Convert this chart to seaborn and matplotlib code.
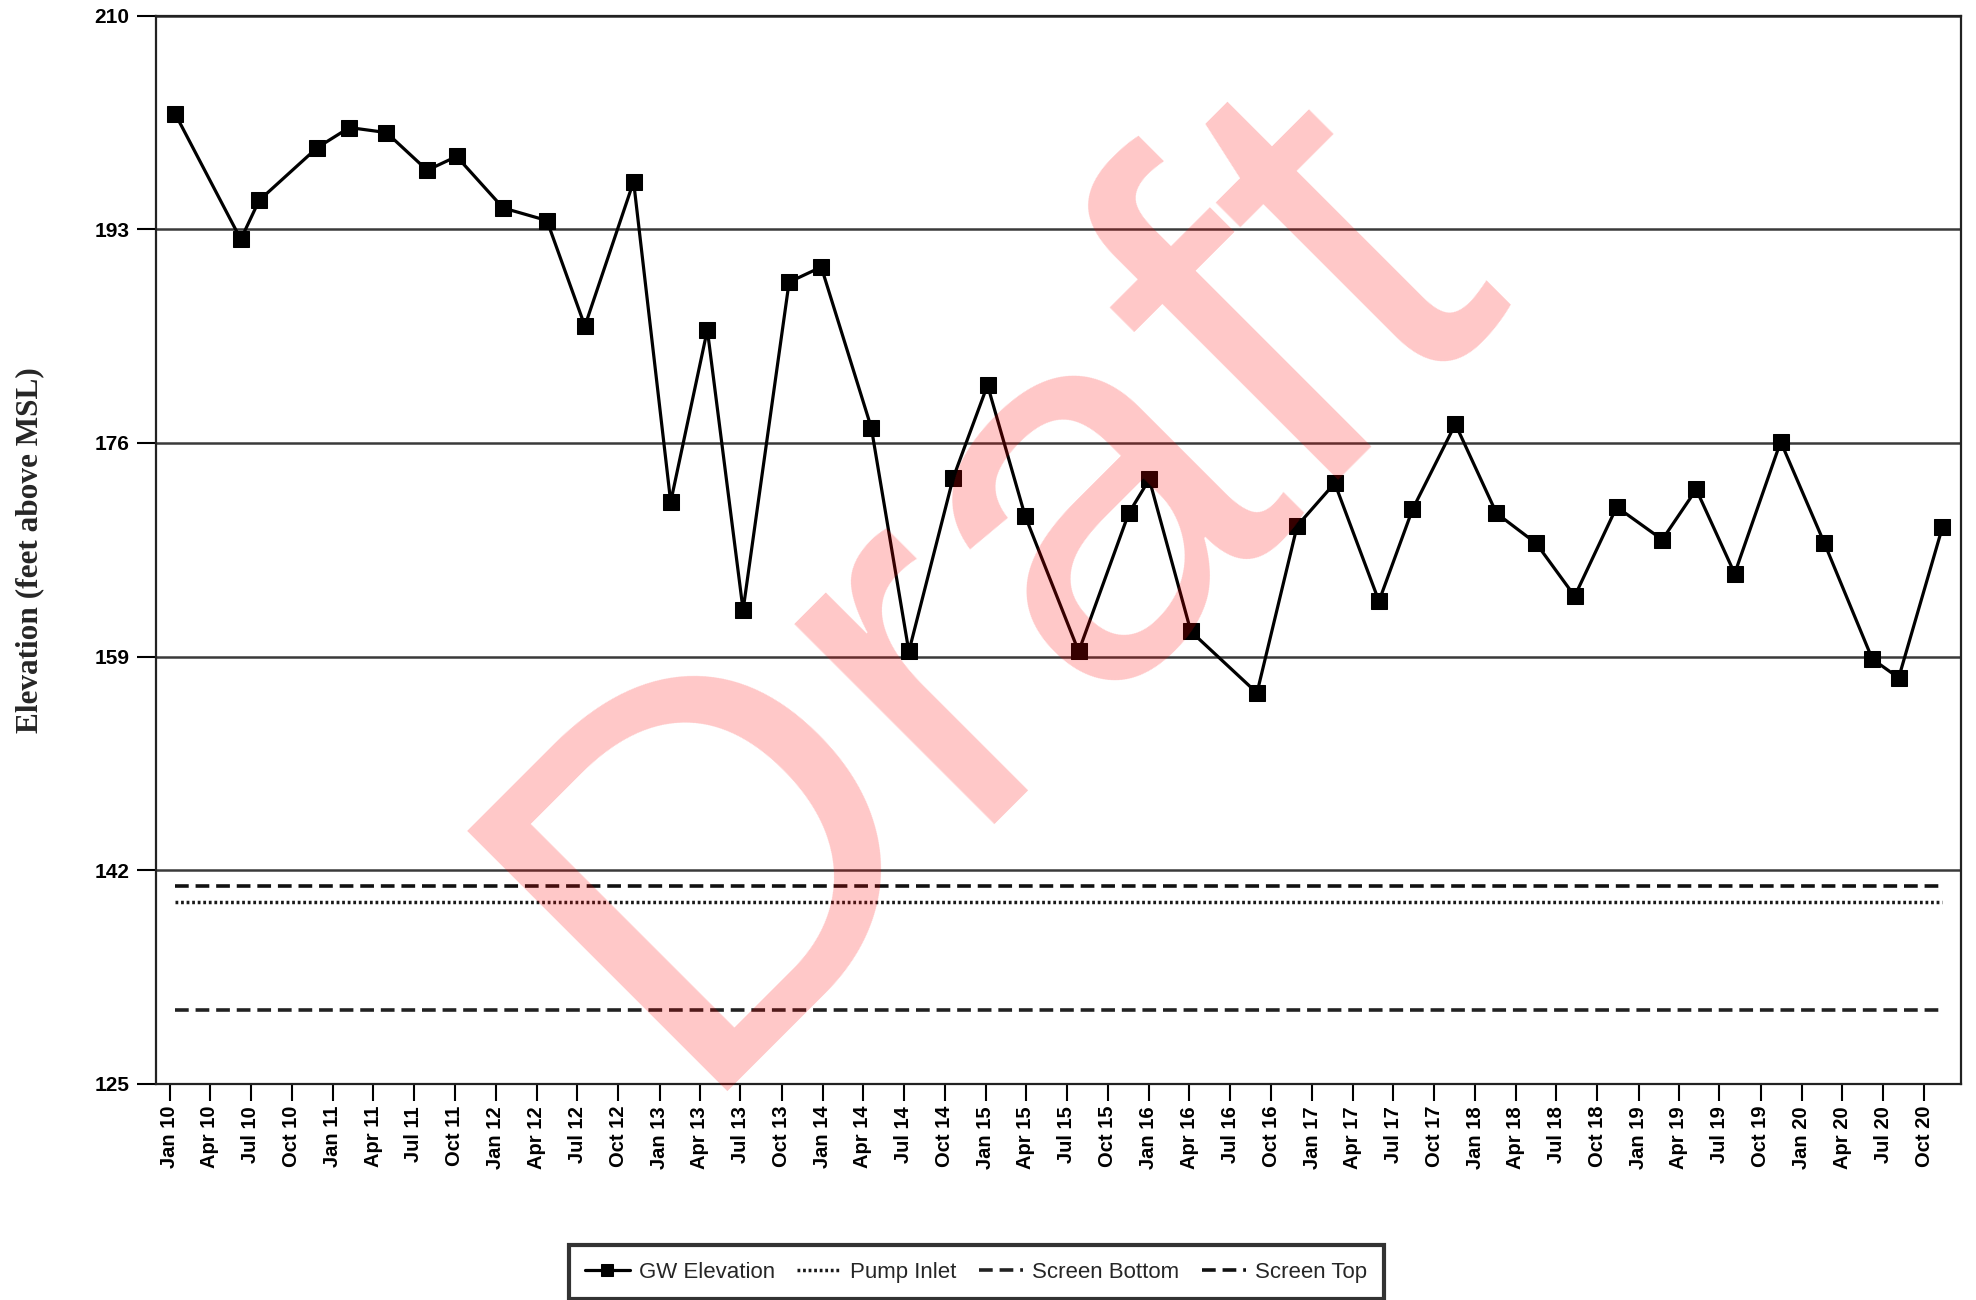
import matplotlib
matplotlib.use("Agg")
import matplotlib.pyplot as plt
import matplotlib.dates as mdates
import pandas as pd
import seaborn as sns

# Groundwater monitoring record
sample_dates = [
    "2010-01-13", "2010-06-09", "2010-07-20", "2010-11-27", "2011-02-07",
    "2011-05-01", "2011-07-31", "2011-10-05", "2012-01-17", "2012-04-24",
    "2012-07-18", "2012-11-04", "2013-01-26", "2013-04-18", "2013-07-07",
    "2013-10-18", "2013-12-29", "2014-04-20", "2014-07-13", "2014-10-20",
    "2015-01-05", "2015-03-30", "2015-07-28", "2015-11-17", "2016-01-02",
    "2016-04-04", "2016-08-30", "2016-11-28", "2017-02-20", "2017-05-30",
    "2017-08-13", "2017-11-17", "2018-02-17", "2018-05-17", "2018-08-11",
    "2018-11-13", "2019-02-23", "2019-05-10", "2019-08-04", "2019-11-15",
    "2020-02-21", "2020-06-07", "2020-08-05", "2020-11-11",
]
gw_elevation = [
    202.2, 192.2, 195.3, 199.5, 201.1,
    200.7, 197.7, 198.8, 194.7, 193.7,
    185.3, 196.8, 171.3, 185.0, 162.7,
    188.8, 190.0, 177.2, 159.4, 173.2,
    180.6, 170.2, 159.4, 170.4, 173.1,
    161.0, 156.1, 169.4, 172.8, 163.4,
    170.7, 177.5, 170.4, 168.0, 163.8,
    170.9, 168.3, 172.3, 165.6, 176.1,
    168.0, 158.8, 157.3, 169.3,
]

# Well construction elevations (feet above MSL)
screen_top = 140.7
pump_inlet = 139.5
screen_bottom = 130.9

y_ticks = [125, 142, 159, 176, 193, 210]
legend_labels = ["GW Elevation", "Pump Inlet", "Screen Bottom", "Screen Top"]

sns.set_style("white")
plt.rcParams["font.family"] = ["Liberation Sans", "DejaVu Sans"]

fig = plt.figure(figsize=(19.76, 13), dpi=100)
ax = fig.add_axes([0.0789, 0.1664, 0.9134, 0.8215])

df = pd.DataFrame({"date": pd.to_datetime(sample_dates), "elev": gw_elevation})
span = pd.to_datetime([sample_dates[0], sample_dates[-1]])

sns.lineplot(data=df, x="date", y="elev", ax=ax, color="black", linewidth=2.3,
             marker="s", markersize=11, markeredgecolor="black",
             markerfacecolor="black", legend=False, zorder=5)
sns.lineplot(x=span, y=[pump_inlet, pump_inlet], ax=ax, color="#1a1a1a",
             linewidth=2.5, linestyle=(0, (0.8, 0.8)), legend=False, zorder=4)
sns.lineplot(x=span, y=[screen_bottom, screen_bottom], ax=ax, color="#222222",
             linewidth=2.6, linestyle=(0, (3.8, 1.9)), legend=False, zorder=4)
sns.lineplot(x=span, y=[screen_top, screen_top], ax=ax, color="#111111",
             linewidth=2.6, linestyle=(0, (3.8, 1.9)), legend=False, zorder=4)

ax.set_xlim(pd.Timestamp("2009-12-01"), pd.Timestamp("2020-12-22"))
ax.set_ylim(125, 210)
ax.set_yticks(y_ticks)
ax.yaxis.grid(True, color="#3a3a3a", linewidth=1.8)
ax.xaxis.grid(False)
ax.set_axisbelow(True)

ax.xaxis.set_major_locator(mdates.MonthLocator(bymonth=[1, 4, 7, 10]))
ax.xaxis.set_major_formatter(mdates.DateFormatter("%b %y"))

ax.tick_params(axis="y", length=14, width=1.5, direction="out", pad=5,
               labelsize=15, colors="black", left=True)
ax.tick_params(axis="x", length=12, width=1.5, direction="out", pad=4,
               labelsize=14.5, colors="black", bottom=True)
for lab in ax.get_yticklabels():
    lab.set_fontweight("bold")
for lab in ax.get_xticklabels():
    lab.set_fontweight("bold")
    lab.set_rotation(90)
    lab.set_ha("center")
    lab.set_va("top")

for side in ["left", "right", "top", "bottom"]:
    ax.spines[side].set_color("#222222")
    ax.spines[side].set_linewidth(1.6)

ax.set_xlabel("")
ax.set_ylabel("Elevation (feet above MSL)", fontsize=22.5, fontweight="bold",
              family=["Liberation Serif", "DejaVu Serif"])
ax.yaxis.set_label_coords(-0.062, 0.5)

# Watermark
ax.text(0.465, 0.468, "Draft", transform=ax.transAxes, fontsize=385,
        rotation=45, color="red", alpha=0.22, ha="center", va="center",
        zorder=10, clip_on=False)

handles = list(ax.get_lines())[:4]
leg = fig.legend(handles, legend_labels, loc="center",
                 bbox_to_anchor=(0.494, 0.0215), ncol=4, fontsize=16,
                 frameon=True, fancybox=False, edgecolor="black",
                 handlelength=2.0, handletextpad=0.4, columnspacing=1.0,
                 borderpad=0.75, borderaxespad=0.0)
leg.get_frame().set_linewidth(3)
for h in leg.legend_handles:
    try:
        h.set_markersize(8)
    except Exception:
        pass

fig.savefig("out.png", dpi=100)
